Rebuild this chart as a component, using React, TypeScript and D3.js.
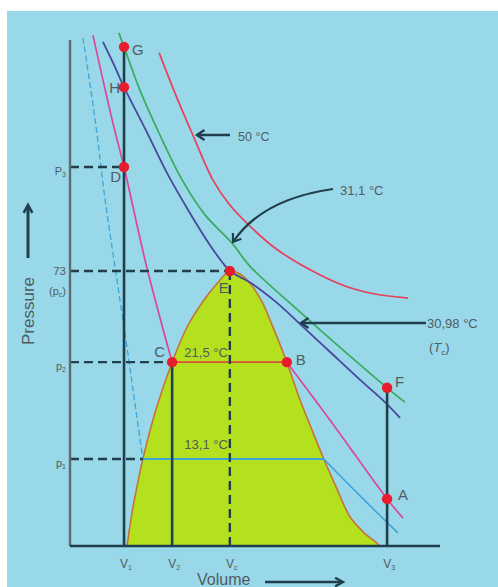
import React from 'react';
import * as d3 from 'd3';

type Pt = [number, number]; // [volume, pressure]

// Isotherms of carbon dioxide, as [volume, pressure] pairs
const iso50: Pt[] = [[24.1, 130.9], [28.6, 119.7], [33.2, 109.1], [38.6, 97.2], [43.2, 90.5], [47.8, 85.7], [55.4, 79.1], [64.9, 73.3], [74.3, 69.0], [82.4, 66.9], [91.4, 65.8]];
const iso311: Pt[] = [[13.2, 136.2], [14.6, 132.5], [18.9, 121.0], [24.3, 109.1], [30.3, 97.2], [36.5, 87.9], [43.8, 80.4], [48.6, 74.3], [62.2, 62.1], [75.7, 50.4], [85.7, 42.0], [90.5, 38.2]];
const isoTc: Pt[] = [[8.9, 133.8], [11.9, 127.7], [14.6, 121.8], [20.5, 110.4], [26.5, 98.5], [32.4, 88.4], [37.8, 79.9], [41.1, 75.4], [43.2, 73.0], [45.9, 71.4], [48.6, 70.0], [55.4, 65.0], [62.2, 58.9], [70.3, 51.5], [78.4, 44.1], [85.1, 38.2], [89.2, 34.0]];
const iso215Liquid: Pt[] = [[6.2, 135.6], [11.4, 113.1], [14.6, 100.6], [20.6, 74.6], [27.6, 48.8]];
const iso215Gas: Pt[] = [[58.6, 48.8], [70.3, 33.4], [85.7, 12.5], [90.0, 7.4]];
const iso131Liquid: Pt[] = [[3.5, 134.9], [6.8, 113.1], [9.5, 91.8], [12.7, 70.6], [15.9, 49.4], [17.8, 36.1], [19.7, 23.1]];
const iso131Gas: Pt[] = [[68.6, 23.1], [78.4, 13.3], [88.6, 3.5]];

// Boundary of the liquid + vapour region (left branch bottom→top, right branch top→bottom)
const domeLeft: Pt[] = [[15.4, 0], [16.9, 9.6], [18.2, 16.2], [19.7, 23.1], [23.2, 36.1], [27.6, 48.8], [31.8, 58.4], [36.8, 66.1], [40.3, 70.3], [43.2, 73.0]];
const domeRight: Pt[] = [[45.9, 72.2], [48.6, 69.8], [51.9, 64.8], [54.6, 58.7], [58.6, 48.8], [62.2, 38.7], [65.4, 30.8], [68.6, 23.1], [71.9, 15.7], [75.7, 7.7], [79.5, 3.5], [81.9, 1.6], [83.8, 0]];

// Named states
const states = [
  { id: 'G', v: 14.6, p: 132.5 },
  { id: 'H', v: 14.6, p: 121.8 },
  { id: 'D', v: 14.6, p: 100.6 },
  { id: 'E', v: 43.2, p: 73.0 },
  { id: 'C', v: 27.6, p: 48.8 },
  { id: 'B', v: 58.6, p: 48.8 },
  { id: 'F', v: 85.7, p: 42.0 },
  { id: 'A', v: 85.7, p: 12.5 },
];

// Axis marks
const pressureTicks = [
  { value: 100.6, main: 'P', sub: '3', reach: 14.6 },
  { value: 73, main: '73', sub: '', reach: 43.2 },
  { value: 48.8, main: 'p', sub: '2', reach: 27.6 },
  { value: 23.1, main: 'p', sub: '1', reach: 19.7 },
];
const volumeTicks = [
  { value: 14.6, sub: '1', top: 132.5, dashed: false },
  { value: 27.6, sub: '2', top: 48.8, dashed: false },
  { value: 43.2, sub: 'c', top: 73.0, dashed: true },
  { value: 85.7, sub: '3', top: 42.0, dashed: false },
];

const labelOffset: Record<string, { dx: number; dy: number; anchor: string }> = {
  G: { dx: 8, dy: 8, anchor: 'start' },
  H: { dx: -4, dy: 6, anchor: 'end' },
  D: { dx: -3, dy: 15, anchor: 'end' },
  E: { dx: -6, dy: 22, anchor: 'middle' },
  C: { dx: -7, dy: -5, anchor: 'end' },
  B: { dx: 9, dy: 3, anchor: 'start' },
  F: { dx: 8, dy: -1, anchor: 'start' },
  A: { dx: 11, dy: 1, anchor: 'start' },
};

const FONT = 'Liberation Sans, Arial, sans-serif';
const TEXT = '#515c60';
const DARK = '#213e4c';

function chevron(tx: number, ty: number, dx: number, dy: number, len = 9, spread = 0.6) {
  const back = Math.atan2(dy, dx) + Math.PI;
  const a = [tx + len * Math.cos(back - spread), ty + len * Math.sin(back - spread)];
  const b = [tx + len * Math.cos(back + spread), ty + len * Math.sin(back + spread)];
  return `M${a[0]},${a[1]}L${tx},${ty}L${b[0]},${b[1]}`;
}

export default function App() {
  const x = d3.scaleLinear().domain([0, 100]).range([70, 440]);
  const y = d3.scaleLinear().domain([0, 73]).range([546, 271]);
  const line = d3.line<Pt>().x(d => x(d[0])).y(d => y(d[1])).curve(d3.curveCatmullRom.alpha(0.5));
  const straight = d3.line<Pt>().x(d => x(d[0])).y(d => y(d[1]));

  const dome = domeLeft.concat(domeRight);
  const domeFill = line(dome) + 'Z';

  const yTop = 134.3;
  const E = states.find(s => s.id === 'E')!;
  const C = states.find(s => s.id === 'C')!;
  const B = states.find(s => s.id === 'B')!;

  return (
    <svg width={498} height={587} style={{ position: 'absolute', left: 0, top: 0 }} fontFamily={FONT}>
      <rect x={0} y={0} width={498} height={587} fill="#ffffff" />
      <rect x={7} y={11} width={491} height={576} fill="#99d8e9" />

      {/* two-phase region */}
      <path d={domeFill} fill="#b4e11e" stroke="none" />
      <path d={line(dome)!} fill="none" stroke="#c6733a" strokeWidth={1.6} />

      {/* isotherms */}
      <path d={line(iso50)!} fill="none" stroke="#e8405a" strokeWidth={1.7} />
      <path d={line(iso311)!} fill="none" stroke="#3aaa5c" strokeWidth={1.7} />
      <path d={line(isoTc)!} fill="none" stroke="#4a479e" strokeWidth={1.8} />
      <path d={line(iso215Liquid)!} fill="none" stroke="#d9489c" strokeWidth={1.7} />
      <path d={line(iso215Gas)!} fill="none" stroke="#d9489c" strokeWidth={1.7} />
      <path d={straight([[C.v, C.p], [B.v, B.p]])!} fill="none" stroke="#dc4e36" strokeWidth={1.7} />
      <path d={line(iso131Liquid)!} fill="none" stroke="#3aa6dc" strokeWidth={1.3} strokeDasharray="6,3" />
      <path d={straight([iso131Liquid[iso131Liquid.length - 1], iso131Gas[0]])!} fill="none" stroke="#3aa6dc" strokeWidth={1.8} />
      <path d={line(iso131Gas)!} fill="none" stroke="#3aa6dc" strokeWidth={1.6} />

      {/* pressure guides */}
      {pressureTicks.map(t => (
        <line key={'g' + t.value} x1={x(0)} x2={x(t.reach)} y1={y(t.value)} y2={y(t.value)}
          stroke={DARK} strokeWidth={2.4} strokeDasharray="9,5" />
      ))}
      {/* volume guides */}
      {volumeTicks.map(t => (
        <line key={'v' + t.value} x1={x(t.value)} x2={x(t.value)} y1={y(t.top)} y2={y(0)}
          stroke={DARK} strokeWidth={t.dashed ? 2.4 : 2.6} strokeDasharray={t.dashed ? '9,5' : undefined} />
      ))}

      {/* axes */}
      <line x1={x(0)} x2={x(0)} y1={y(yTop)} y2={y(0)} stroke="#5d6b6e" strokeWidth={2.4} />
      <line x1={x(0)} x2={x(100)} y1={y(0)} y2={y(0)} stroke={DARK} strokeWidth={2.4} />

      {/* states */}
      {states.map(s => (
        <circle key={s.id} cx={x(s.v)} cy={y(s.p)} r={5.2} fill="#e81d2b" />
      ))}
      {states.map(s => {
        const o = labelOffset[s.id];
        return (
          <text key={'t' + s.id} x={x(s.v) + o.dx} y={y(s.p) + o.dy} textAnchor={o.anchor}
            fontSize={15} fill={TEXT}>{s.id}</text>
        );
      })}

      {/* pressure tick labels */}
      {pressureTicks.map(t => (
        <text key={'pt' + t.value} x={66} y={y(t.value) + (t.sub ? 8 : 4)} textAnchor="end" fontSize={t.sub ? 11 : 11.5} fill={TEXT}>
          {t.main}
          {t.sub && <tspan fontSize={7} dy={2}>{t.sub}</tspan>}
        </text>
      ))}
      <text x={66} y={y(73) + 24} textAnchor="end" fontSize={11} fill={TEXT}>
        (p<tspan fontSize={7} dy={2}>c</tspan><tspan dy={-2}>)</tspan>
      </text>

      {/* volume tick labels */}
      {volumeTicks.map(t => (
        <text key={'vt' + t.value} x={x(t.value) + 2} y={568} textAnchor="middle" fontSize={12} fill={TEXT}>
          V<tspan fontSize={7} dy={2}>{t.sub}</tspan>
        </text>
      ))}

      {/* isotherm labels */}
      <text x={x(E.v) - 2} y={y(C.p) - 5} textAnchor="end" fontSize={13} fill={TEXT}>21,5 °C</text>
      <text x={x(E.v) - 2} y={y(23.1) - 10} textAnchor="end" fontSize={13} fill={TEXT}>13,1 °C</text>

      {/* 50 °C pointer */}
      <line x1={230} x2={197} y1={135} y2={135} stroke={DARK} strokeWidth={2.4} />
      <path d={chevron(197, 135, -1, 0)} fill="none" stroke={DARK} strokeWidth={2.4} />
      <text x={238} y={141} fontSize={12.5} fill={TEXT}>50 °C</text>

      {/* 31,1 °C pointer */}
      <path d="M333,189 Q262,199 233,242" fill="none" stroke={DARK} strokeWidth={2.2} />
      <path d={chevron(233, 242, -29, 43)} fill="none" stroke={DARK} strokeWidth={2.2} />
      <text x={340} y={195} fontSize={13} fill={TEXT}>31,1 °C</text>

      {/* critical isotherm pointer */}
      <line x1={426} x2={301} y1={323} y2={323} stroke={DARK} strokeWidth={2.4} />
      <path d={chevron(301, 323, -1, 0)} fill="none" stroke={DARK} strokeWidth={2.4} />
      <text x={427} y={328} fontSize={13} fill={TEXT}>30,98 °C</text>
      <text x={429} y={352} fontSize={13} fill={TEXT}>
        (<tspan fontStyle="italic">T</tspan><tspan fontSize={8} dy={3}>c</tspan><tspan dy={-3}>)</tspan>
      </text>

      {/* axis titles */}
      <text transform="translate(34,311) rotate(-90)" textAnchor="middle" fontSize={17} fill={TEXT}>Pressure</text>
      <line x1={28} x2={28} y1={258} y2={206} stroke={DARK} strokeWidth={3} />
      <path d={chevron(28, 205, 0, -1, 9, 0.5)} fill="none" stroke={DARK} strokeWidth={2.6} />

      <text x={197} y={585} fontSize={16} fill={TEXT}>Volume</text>
      <line x1={265} x2={342} y1={582} y2={582} stroke={DARK} strokeWidth={2.6} />
      <path d={chevron(343, 582, 1, 0, 9, 0.5)} fill="none" stroke={DARK} strokeWidth={2.4} />
    </svg>
  );
}
